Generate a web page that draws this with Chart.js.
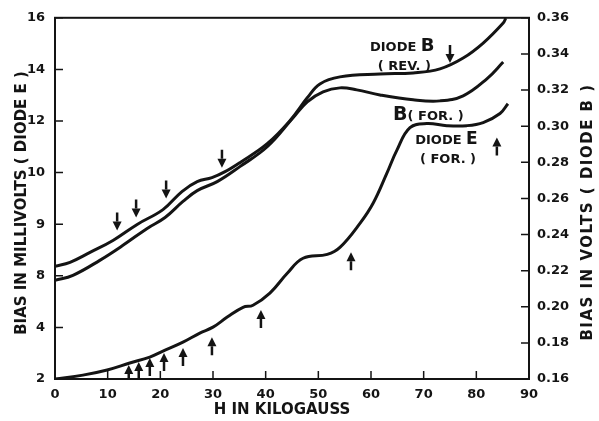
<!DOCTYPE html>
<html lang="en">
<head>
    <meta charset="UTF-8">
    <title>Bias vs H</title>
    <script src="https://cdn.jsdelivr.net/npm/chart.js"></script>
    <style>
        body { margin: 0; background: #fff; }
        #wrap { width: 599px; height: 421px; }
    </style>
</head>
<body>
    <div id="wrap"><canvas id="biasChart"></canvas></div>

    <script>
        // H in kilogauss and bias values
        const hBrev = [0, 2.85, 6.65, 11.0, 15.6, 20.5, 24.1, 27.0, 29.8, 32.3, 35.1, 40.3, 44.6, 47.9, 50.3, 54.1, 61.7, 68.0, 73.1, 77.5, 81.3, 85.1, 85.6];
        const vBrev = [0.2224, 0.2246, 0.2301, 0.2367, 0.2456, 0.2538, 0.2638, 0.2693, 0.2715, 0.2748, 0.2798, 0.2903, 0.3030, 0.3157, 0.3234, 0.3273, 0.3289, 0.3295, 0.3317, 0.3377, 0.3460, 0.3571, 0.3598];

        const hBfor = [0, 3.4, 8.5, 12.9, 17.5, 20.9, 24.3, 27.0, 30.8, 35.1, 40.3, 45.2, 47.9, 50.9, 54.1, 57.3, 61.7, 68.0, 73.1, 77.5, 82.0, 85.1];
        const vBfor = [0.2146, 0.2174, 0.2257, 0.2340, 0.2434, 0.2494, 0.2583, 0.2643, 0.2693, 0.2776, 0.2886, 0.3046, 0.3135, 0.3190, 0.3212, 0.3201, 0.3173, 0.3146, 0.3140, 0.3168, 0.3262, 0.3355];

        const hE = [0, 5.3, 9.9, 14.2, 18.0, 20.5, 24.3, 27.5, 30.0, 32.7, 35.7, 37.6, 40.8, 44.1, 47.1, 51.7, 54.1, 57.9, 60.4, 63.0, 64.9, 67.4, 70.6, 74.4, 78.2, 81.3, 84.5, 86.0];
        const mvE = [2.00, 2.15, 2.35, 2.62, 2.85, 3.08, 3.43, 3.78, 4.01, 4.40, 4.78, 4.86, 5.33, 6.10, 6.68, 6.83, 7.10, 8.03, 8.81, 9.97, 10.86, 11.74, 11.90, 11.82, 11.82, 11.94, 12.29, 12.67];

        // arrows: down ones point at diode B, up ones at diode E
        const downArrowH = [11.8, 15.4, 21.1, 31.7, 75.0];
        const downArrowV = [0.2422, 0.2494, 0.2599, 0.2770, 0.3350];
        const upArrowH = [14.0, 15.9, 18.0, 20.7, 24.3, 29.8, 39.1, 56.2, 83.9];
        const upArrowMV = [2.54, 2.66, 2.81, 3.01, 3.20, 3.62, 4.67, 6.91, 11.36];

        // left axis labels as printed on the original
        const leftTickLabels = ['2', '4', '8', '9', '10', '12', '14', '16'];

        const ink = '#141414';
        const fontName = '"DejaVu Sans", sans-serif';

        function pts(xs, ys) {
            return xs.map((x, i) => ({ x: x, y: ys[i] }));
        }

        function drawArrow(ctx, x, tipY, dir) {
            // dir = 1 -> pointing down, -1 -> pointing up
            const len = 18, head = 9, half = 4.5;
            ctx.beginPath();
            ctx.moveTo(x, tipY - dir * len);
            ctx.lineTo(x, tipY - dir * head);
            ctx.lineWidth = 2.5;
            ctx.stroke();
            ctx.beginPath();
            ctx.moveTo(x, tipY);
            ctx.lineTo(x - half, tipY - dir * head);
            ctx.lineTo(x + half, tipY - dir * head);
            ctx.closePath();
            ctx.fill();
        }

        // curve labels (anchor in data units, left baseline)
        const curveLabels = [
            { parts: [['DIODE ', 13], ['B', 18]], h: 59.8, v: 0.3416, axis: 'y1' },
            { parts: [['( REV. )', 13]], h: 61.3, v: 0.3311, axis: 'y1' },
            { parts: [['B', 19], ['( FOR. )', 13]], h: 64.2, v: 0.3035, axis: 'y1' },
            { parts: [['DIODE ', 13], ['E', 17]], h: 68.4, v: 11.09, axis: 'y' },
            { parts: [['( FOR. )', 13]], h: 69.3, v: 10.39, axis: 'y' }
        ];

        const overlay = {
            id: 'overlay',
            afterDraw(chart) {
                const ctx = chart.ctx;
                const a = chart.chartArea;
                const sx = chart.scales.x, sy = chart.scales.y, sy1 = chart.scales.y1;
                ctx.save();
                ctx.strokeStyle = ink;
                ctx.fillStyle = ink;

                // frame
                ctx.lineWidth = 2;
                ctx.strokeRect(a.left, a.top, a.right - a.left, a.bottom - a.top);

                // inward ticks
                ctx.lineWidth = 1.5;
                ctx.beginPath();
                sy.ticks.forEach(t => {
                    const y = sy.getPixelForValue(t.value);
                    ctx.moveTo(a.left, y); ctx.lineTo(a.left + 8, y);
                });
                sy1.ticks.forEach(t => {
                    const y = sy1.getPixelForValue(t.value);
                    ctx.moveTo(a.right - 8, y); ctx.lineTo(a.right, y);
                });
                sx.ticks.forEach(t => {
                    const x = sx.getPixelForValue(t.value);
                    ctx.moveTo(x, a.bottom); ctx.lineTo(x, a.bottom - 8);
                });
                ctx.stroke();

                // arrows
                ctx.save();
                ctx.beginPath();
                ctx.rect(a.left, a.top, a.right - a.left, a.bottom - a.top);
                ctx.clip();
                downArrowH.forEach((h, i) => {
                    drawArrow(ctx, sx.getPixelForValue(h), sy1.getPixelForValue(downArrowV[i]), 1);
                });
                upArrowH.forEach((h, i) => {
                    drawArrow(ctx, sx.getPixelForValue(h), sy.getPixelForValue(upArrowMV[i]), -1);
                });
                ctx.restore();

                // curve labels
                ctx.textBaseline = 'alphabetic';
                ctx.textAlign = 'left';
                curveLabels.forEach(lb => {
                    let x = sx.getPixelForValue(lb.h);
                    const y = chart.scales[lb.axis].getPixelForValue(lb.v);
                    lb.parts.forEach(([txt, size]) => {
                        ctx.font = 'bold ' + size + 'px ' + fontName;
                        ctx.fillText(txt, x, y);
                        x += ctx.measureText(txt).width;
                    });
                });

                // axis titles
                ctx.textAlign = 'center';
                ctx.textBaseline = 'middle';
                ctx.font = 'bold 15px ' + fontName;
                ctx.fillText('H IN KILOGAUSS', 282, 410);

                ctx.save();
                ctx.translate(22, 203);
                ctx.rotate(-Math.PI / 2);
                ctx.fillText('BIAS IN MILLIVOLTS ( DIODE E )', 0, 0);
                ctx.restore();

                ctx.save();
                ctx.letterSpacing = '1.5px';
                ctx.translate(588, 212);
                ctx.rotate(-Math.PI / 2);
                ctx.fillText('BIAS IN VOLTS ( DIODE B )', 0, 0);
                ctx.restore();

                ctx.restore();
            }
        };

        const lineStyle = {
            borderColor: ink,
            borderWidth: 3,
            pointRadius: 0,
            fill: false,
            tension: 0.4
        };

        const ctx = document.getElementById('biasChart').getContext('2d');
        const biasChart = new Chart(ctx, {
            type: 'line',
            data: {
                datasets: [
                    Object.assign({ label: 'Diode B (rev.)', data: pts(hBrev, vBrev), yAxisID: 'y1' }, lineStyle),
                    Object.assign({ label: 'B (for.)', data: pts(hBfor, vBfor), yAxisID: 'y1' }, lineStyle),
                    Object.assign({ label: 'Diode E (for.)', data: pts(hE, mvE), yAxisID: 'y' }, lineStyle)
                ]
            },
            options: {
                responsive: true,
                maintainAspectRatio: false,
                animation: false,
                devicePixelRatio: 1,
                layout: { padding: { top: 17, left: 0, right: 0, bottom: 0 } },
                plugins: { legend: { display: false }, tooltip: { enabled: false } },
                scales: {
                    x: {
                        type: 'linear',
                        min: 0, max: 90,
                        grid: { display: false, drawTicks: false },
                        border: { display: false },
                        ticks: {
                            stepSize: 10,
                            padding: 8,
                            color: ink,
                            font: { family: fontName, size: 13, weight: 'bold' }
                        },
                        afterFit: s => { s.height = 42; }
                    },
                    y: {
                        position: 'left',
                        min: 2, max: 16,
                        grid: { display: false, drawTicks: false },
                        border: { display: false },
                        ticks: {
                            stepSize: 2,
                            padding: 10,
                            color: ink,
                            font: { family: fontName, size: 13, weight: 'bold' },
                            callback: v => leftTickLabels[Math.round((v - 2) / 2)]
                        },
                        afterFit: s => { s.width = 55; }
                    },
                    y1: {
                        position: 'right',
                        min: 0.16, max: 0.36,
                        grid: { display: false, drawTicks: false },
                        border: { display: false },
                        ticks: {
                            stepSize: 0.02,
                            padding: 8,
                            color: ink,
                            font: { family: fontName, size: 13, weight: 'bold' },
                            callback: v => v.toFixed(2)
                        },
                        afterFit: s => { s.width = 70; }
                    }
                }
            },
            plugins: [overlay]
        });
    </script>
</body>
</html>
